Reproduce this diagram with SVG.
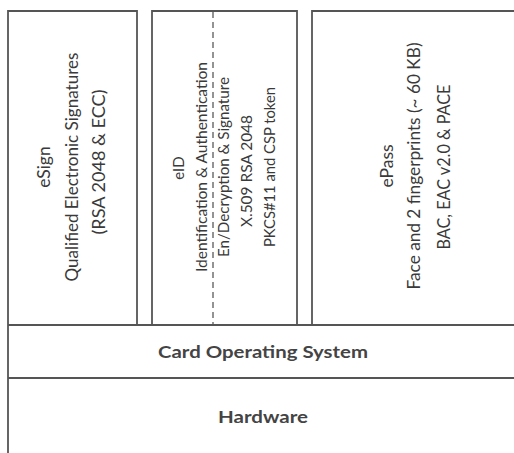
<svg xmlns="http://www.w3.org/2000/svg" width="514" height="453" viewBox="0 0 514 453">
<style>
.b{fill:none;stroke:#555;stroke-width:1.8}
.d{fill:none;stroke:#666;stroke-width:1.4;stroke-dasharray:6 4}
.t{font-family:Lato,"Liberation Sans",sans-serif;fill:#3a3a3a;text-anchor:middle}
.l{font-size:17.5px}
.s{font-size:15px}
.h{font-size:17px;font-weight:bold;fill:#444}
</style>
<rect width="514" height="453" fill="#fff"/>
<g id="eSign">
<path class="b" d="M8,325 V11 H137 V325"/>
<text class="t l" transform="translate(50,167) rotate(-90)">eSign</text>
<text class="t l" transform="translate(78,167) rotate(-90)" textLength="229" lengthAdjust="spacingAndGlyphs">Qualified Electronic Signatures</text>
<text class="t l" transform="translate(105,162) rotate(-90)" textLength="145" lengthAdjust="spacingAndGlyphs">(RSA 2048 &amp; ECC)</text>
</g>
<g id="eID">
<path class="b" d="M152,325 V11 H297 V325"/>
<path class="d" d="M213,12 V325"/>
<text class="t s" transform="translate(184,168) rotate(-90)">eID</text>
<text class="t s" transform="translate(207,167) rotate(-90)" textLength="210" lengthAdjust="spacingAndGlyphs">Identification &amp; Authentication</text>
<text class="t s" transform="translate(229,167) rotate(-90)" textLength="180" lengthAdjust="spacingAndGlyphs">En/Decryption &amp; Signature</text>
<text class="t s" transform="translate(252,171) rotate(-90)" textLength="112" lengthAdjust="spacingAndGlyphs">X.509 RSA 2048</text>
<text class="t s" transform="translate(275,167) rotate(-90)" textLength="160" lengthAdjust="spacingAndGlyphs">PKCS#11 and CSP token</text>
</g>
<g id="ePass">
<path class="b" d="M312,325 V11 H514"/>
<text class="t l" transform="translate(393,166) rotate(-90)">ePass</text>
<text class="t l" transform="translate(420,166) rotate(-90)" textLength="247" lengthAdjust="spacingAndGlyphs">Face and 2 fingerprints (~ 60 KB)</text>
<text class="t l" transform="translate(450,167) rotate(-90)" textLength="165" lengthAdjust="spacingAndGlyphs">BAC, EAC v2.0 &amp; PACE</text>
</g>
<g id="cos">
<path class="b" d="M8,325 H514 M8,378 H514 M8,325 V378"/>
<text class="t h" x="263" y="358" textLength="210" lengthAdjust="spacingAndGlyphs">Card Operating System</text>
</g>
<g id="hardware">
<path class="b" d="M8,378 V453"/>
<text class="t h" x="263" y="423" textLength="90" lengthAdjust="spacingAndGlyphs">Hardware</text>
</g>
<g id="connectors"></g>
</svg>
